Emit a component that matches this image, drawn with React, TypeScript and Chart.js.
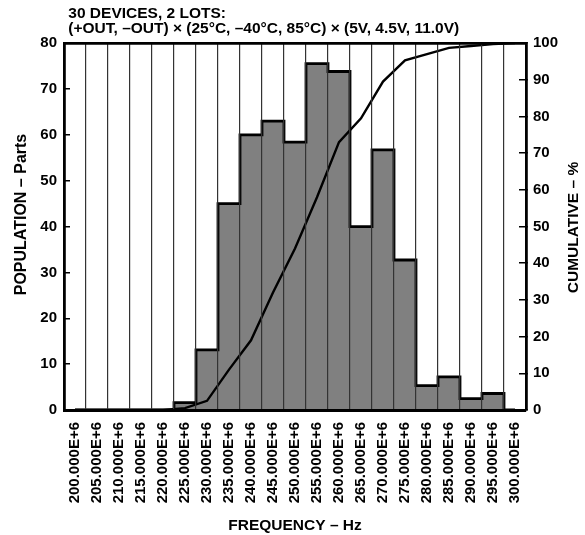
import React, { useEffect, useRef } from "react";
import { Chart, registerables } from "chart.js";

Chart.register(...registerables);

const frequencyLabels = [
  "200.000E+6", "205.000E+6", "210.000E+6", "215.000E+6", "220.000E+6",
  "225.000E+6", "230.000E+6", "235.000E+6", "240.000E+6", "245.000E+6",
  "250.000E+6", "255.000E+6", "260.000E+6", "265.000E+6", "270.000E+6",
  "275.000E+6", "280.000E+6", "285.000E+6", "290.000E+6", "295.000E+6",
  "300.000E+6",
];

const population = [
  0, 0, 0, 0, 0, 1.6, 13.1, 45, 60, 63, 58.4, 75.5, 73.8, 40, 56.7, 32.7,
  5.3, 7.2, 2.5, 3.6, 0,
];

const cumulative = [
  0, 0, 0, 0, 0, 0.5, 2.5, 11, 19, 32, 44, 58, 73, 79.5, 89.5, 95.3, 97,
  98.7, 99.2, 99.7, 100,
];

const titleLines = [
  " 30 DEVICES, 2 LOTS:",
  " (+OUT, \u2013OUT) \u00d7 (25\u00b0C, \u201340\u00b0C, 85\u00b0C) \u00d7 (5V, 4.5V, 11.0V)",
];
const xTitle = "FREQUENCY \u2013 Hz";
const leftTitle = "POPULATION \u2013 Parts";
const rightTitle = "CUMULATIVE \u2013 %";

const FAMILY = '"Liberation Sans", Arial, Helvetica, sans-serif';

const axisTitlePlugin = {
  id: "sideTitles",
  afterDraw(chart: any) {
    const { ctx, chartArea } = chart;
    const cy = (chartArea.top + chartArea.bottom) / 2;
    ctx.save();
    ctx.fillStyle = "#000";
    ctx.textAlign = "center";
    ctx.textBaseline = "middle";
    ctx.font = `bold 16px ${FAMILY}`;
    ctx.save();
    ctx.translate(chartArea.left - 42.5, cy - 12);
    ctx.rotate(-Math.PI / 2);
    ctx.fillText(leftTitle, 0, 0);
    ctx.restore();
    ctx.font = `bold 15.5px ${FAMILY}`;
    ctx.save();
    ctx.translate(chartArea.right + 48, cy + 1);
    ctx.rotate(-Math.PI / 2);
    ctx.fillText(rightTitle, 0, 0);
    ctx.restore();
    ctx.restore();
  },
};

export default function App() {
  const canvasRef = useRef<HTMLCanvasElement | null>(null);

  useEffect(() => {
    if (!canvasRef.current) return;
    Chart.defaults.color = "#000";
    const chart = new Chart(canvasRef.current, {
      type: "bar",
      data: {
        labels: frequencyLabels,
        datasets: [
          {
            type: "line",
            label: "outline",
            data: population,
            yAxisID: "y",
            stepped: "middle",
            borderColor: "#000",
            borderWidth: 2.8,
            pointRadius: 0,
            fill: false,
            order: 1,
          } as any,
          {
            type: "line",
            label: "cumulative",
            data: cumulative,
            yAxisID: "y2",
            borderColor: "#000",
            borderWidth: 2.4,
            pointRadius: 0,
            fill: false,
            tension: 0,
            order: 2,
          } as any,
          {
            type: "bar",
            label: "population",
            data: population,
            yAxisID: "y",
            backgroundColor: "#808080",
            borderWidth: 0,
            barPercentage: 1,
            categoryPercentage: 1,
            order: 3,
          } as any,
        ],
      },
      options: {
        animation: false,
        responsive: true,
        maintainAspectRatio: false,
        layout: { padding: 0 },
        plugins: {
          legend: { display: false },
          tooltip: { enabled: false },
          title: {
            display: true,
            text: titleLines,
            align: "start",
            fullSize: false,
            color: "#000",
            font: { family: FAMILY, size: 15.5, weight: "bold", lineHeight: 0.95 },
            padding: { top: 6.5, bottom: 7.1 },
          },
        },
        scales: {
          x: {
            type: "category",
            position: "bottom",
            offset: true,
            grid: {
              display: true,
              offset: true,
              drawTicks: false,
              color: "#333",
              lineWidth: 1.2,
              z: 1,
            },
            border: { display: true, color: "#000", width: 3, z: 2 },
            ticks: {
              autoSkip: false,
              maxRotation: 90,
              minRotation: 90,
              padding: 12,
              color: "#000",
              font: { family: FAMILY, size: 15, weight: "bold" },
            },
            title: {
              display: true,
              text: xTitle,
              color: "#000",
              font: { family: FAMILY, size: 15.5, weight: "bold", lineHeight: 1.2 },
              padding: { top: 0, bottom: 0 },
            },
            afterFit(scale: any) {
              scale.height = 125;
            },
          },
          xTop: {
            type: "category",
            position: "top",
            offset: true,
            grid: { display: false, drawTicks: false },
            border: { display: true, color: "#000", width: 2.8, z: 2 },
            ticks: { display: false },
            afterFit(scale: any) {
              scale.height = 0;
            },
          },
          y: {
            type: "linear",
            position: "left",
            min: 0,
            max: 80,
            grid: {
              display: true,
              drawOnChartArea: false,
              drawTicks: true,
              tickLength: -6,
              color: "#000",
              lineWidth: 1.5,
            },
            border: { display: true, color: "#000", width: 2.8, z: 2 },
            ticks: {
              stepSize: 10,
              padding: 13,
              color: "#000",
              font: { family: FAMILY, size: 15, weight: "bold" },
            },
            afterFit(scale: any) {
              scale.width = 64;
            },
          },
          y2: {
            type: "linear",
            position: "right",
            min: 0,
            max: 100,
            grid: {
              display: true,
              drawOnChartArea: false,
              drawTicks: true,
              tickLength: -7,
              color: "#000",
              lineWidth: 1.5,
            },
            border: { display: true, color: "#000", width: 2.8, z: 2 },
            ticks: {
              stepSize: 10,
              padding: 14,
              color: "#000",
              font: { family: FAMILY, size: 15, weight: "bold" },
            },
            afterFit(scale: any) {
              scale.width = 59;
            },
          },
        },
      } as any,
      plugins: [axisTitlePlugin],
    });
    return () => chart.destroy();
  }, []);

  return (
    <div style={{ position: "absolute", left: 0, top: 0, width: 585, height: 535, background: "#fff" }}>
      <canvas ref={canvasRef} />
    </div>
  );
}
